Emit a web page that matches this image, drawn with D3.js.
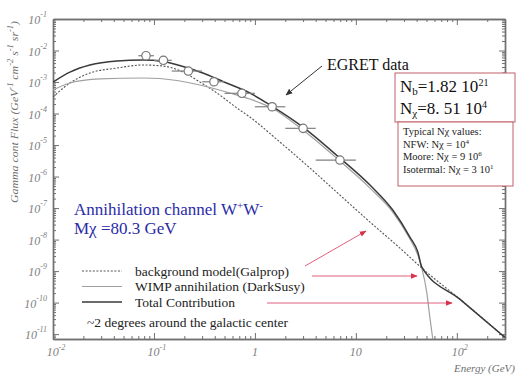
<!DOCTYPE html>
<html><head><meta charset="utf-8">
<script src="https://cdn.jsdelivr.net/npm/d3@7"></script>
<style>body{margin:0;background:#fff}svg{display:block}</style>
</head><body><svg id="c" width="518" height="378"></svg>
<script>
// ---- data ----
const egretE      = [0.0834, 0.124, 0.219, 0.393, 0.743, 1.48, 3.0, 6.95];
const egretFlux   = [6.84e-3, 4.89e-3, 2.23e-3, 1.02e-3, 4.38e-4, 1.64e-4, 3.39e-5, 3.34e-6];
const egretBinLo  = [0.07, 0.1, 0.15, 0.3, 0.5, 1, 2, 4];
const egretBinHi  = [0.1, 0.15, 0.3, 0.5, 1, 2, 4, 10];

const totalE    = [0.01, 0.0147, 0.0232, 0.043, 0.0778, 0.123, 0.194, 0.305, 0.482, 0.891, 1.47, 2.99, 6.95, 13.8, 23.2, 34.3, 41.1, 45.0, 107, 298];
const totalFlux = [1.0e-3, 2.07e-3, 3.47e-3, 4.64e-3, 4.99e-3, 4.48e-3, 3.11e-3, 1.93e-3, 1.04e-3, 4.48e-4, 1.73e-4, 3.73e-5, 3.86e-6, 5.37e-7, 8.65e-8, 1.20e-8, 4.01e-9, 1.34e-9, 1.29e-10, 8.0e-12];

const wimpE    = [0.01, 0.0147, 0.0292, 0.0778, 0.169, 0.285, 0.565, 0.891, 1.47, 2.99, 6.95, 13.8, 23.2, 34.3, 41.1, 45.0, 50.5, 54.0, 57.8];
const wimpFlux = [5.57e-4, 9.3e-4, 1.25e-3, 1.34e-3, 1.12e-3, 8.03e-4, 4.48e-4, 2.88e-4, 1.50e-4, 2.99e-5, 3.10e-6, 4.31e-7, 7.47e-8, 1.04e-8, 3.22e-9, 1.25e-9, 2.0e-10, 3.47e-11, 7.0e-12];

const bkgE    = [0.01, 0.0147, 0.0232, 0.043, 0.0778, 0.123, 0.194, 0.285, 0.421, 0.663, 0.891, 1.77, 3.51, 6.95, 13.8, 27.3, 45.0, 107, 298];
const bkgFlux = [3.34e-4, 9.3e-4, 1.93e-3, 2.78e-3, 3.47e-3, 3.22e-3, 2.07e-3, 1.0e-3, 4.48e-4, 1.50e-4, 7.74e-5, 1.24e-5, 1.86e-6, 2.59e-7, 3.60e-8, 5.37e-9, 1.25e-9, 1.29e-10, 8.0e-12];

const xTickValues = [0.01, 0.1, 1, 10, 100];
const xTickLabels = ["10^-2", "10^-1", "1", "10", "10^2"];
const yTickValues = [1e-1, 1e-2, 1e-3, 1e-4, 1e-5, 1e-6, 1e-7, 1e-8, 1e-9, 1e-10, 1e-11];
const yTickLabels = ["10^-1", "10^-2", "10^-3", "10^-4", "10^-5", "10^-6", "10^-7", "10^-8", "10^-9", "10^-10", "10^-11"];

const legendLabels = ["background model(Galprop)", "WIMP annihilation (DarkSusy)", "Total Contribution"];

// ---- layout ----
const svg = d3.select("#c");
const L = 53, R = 505, T = 19, B = 339;
const x = d3.scaleLog().domain([0.01, 300]).range([L, R]);
const y = d3.scaleLog().domain([7e-12, 0.1]).range([B, T]);
const serif = "'Liberation Serif','Times New Roman',serif";
const axisCol = "#707070";

function minors(lo, hi) {
  const out = [];
  for (let e = Math.floor(Math.log10(lo)); e <= Math.ceil(Math.log10(hi)); e++)
    for (let k = 2; k <= 9; k++) { const v = k * Math.pow(10, e); if (v >= lo && v <= hi) out.push(v); }
  return out;
}
const xMin = minors(0.01, 300), yMin = minors(7e-12, 0.1);

function styleAxis(g) {
  g.select(".domain").attr("stroke", axisCol).attr("stroke-width", 1.4);
  g.selectAll(".tick line").attr("stroke", axisCol).attr("stroke-width", 1);
  g.selectAll(".tick text").remove();
}
svg.append("g").attr("transform", `translate(0,${B})`)
  .call(d3.axisBottom(x).tickValues(xTickValues).tickSizeInner(-6).tickSizeOuter(0).tickFormat("")).call(styleAxis);
svg.append("g").attr("transform", `translate(0,${B})`)
  .call(d3.axisBottom(x).tickValues(xMin).tickSizeInner(-3).tickSizeOuter(0).tickFormat("")).call(styleAxis);
svg.append("g").attr("transform", `translate(0,${T})`)
  .call(d3.axisTop(x).tickValues(xTickValues).tickSizeInner(-6).tickSizeOuter(0).tickFormat("")).call(styleAxis);
svg.append("g").attr("transform", `translate(0,${T})`)
  .call(d3.axisTop(x).tickValues(xMin).tickSizeInner(-3).tickSizeOuter(0).tickFormat("")).call(styleAxis);
svg.append("g").attr("transform", `translate(${L},0)`)
  .call(d3.axisLeft(y).tickValues(yTickValues).tickSizeInner(-6).tickSizeOuter(0).tickFormat("")).call(styleAxis);
svg.append("g").attr("transform", `translate(${L},0)`)
  .call(d3.axisLeft(y).tickValues(yMin).tickSizeInner(-3).tickSizeOuter(0).tickFormat("")).call(styleAxis);
svg.append("g").attr("transform", `translate(${R},0)`)
  .call(d3.axisRight(y).tickValues(yTickValues).tickSizeInner(-6).tickSizeOuter(0).tickFormat("")).call(styleAxis);
svg.append("g").attr("transform", `translate(${R},0)`)
  .call(d3.axisRight(y).tickValues(yMin).tickSizeInner(-3).tickSizeOuter(0).tickFormat("")).call(styleAxis);

function powLabel(sel, label, supSize, supDy) {
  const parts = label.split("^");
  sel.append("tspan").text(parts[0]);
  if (parts.length > 1) {
    sel.append("tspan").attr("font-size", supSize).attr("dy", supDy).text(parts[1]);
  }
}
xTickValues.forEach((v, i) => {
  const t = svg.append("text").attr("x", x(v) + (xTickLabels[i].includes("^") ? 3 : 0)).attr("y", 356)
    .attr("text-anchor", "middle").attr("font-family", serif).attr("font-style", "italic")
    .attr("font-size", 12).attr("fill", "#808080");
  powLabel(t, xTickLabels[i], 8, -6);
});
yTickValues.forEach((v, i) => {
  const t = svg.append("text").attr("x", 47).attr("y", y(v) + 5)
    .attr("text-anchor", "end").attr("font-family", serif).attr("font-style", "italic")
    .attr("font-size", 12).attr("fill", "#808080");
  powLabel(t, yTickLabels[i], 8, -7);
});

// axis titles
svg.append("text").attr("x", 515).attr("y", 372).attr("text-anchor", "end")
  .attr("font-family", serif).attr("font-style", "italic").attr("font-size", 11).attr("fill", "#707070")
  .text("Energy (GeV)");
const yt = svg.append("text").attr("transform", "translate(18,112) rotate(-90)").attr("text-anchor", "middle")
  .attr("font-family", serif).attr("font-style", "italic").attr("font-size", 10.5).attr("fill", "#707070")
  .attr("textLength", 182).attr("lengthAdjust", "spacingAndGlyphs");
[["Gamma cont Flux (GeV", "-1"], [" cm", "-2"], [" s", "-1"], [" sr", "-1"], [")", null]].forEach(([a, s], k) => {
  yt.append("tspan").attr("dy", k === 0 ? 0 : 5).text(a);
  if (s) yt.append("tspan").attr("font-size", 7.5).attr("dy", -5).text(s);
});

// ---- curves ----
const line = d3.line().x(d => x(d[0])).y(d => y(d[1])).curve(d3.curveMonotoneX);
svg.append("clipPath").attr("id", "pc").append("rect").attr("x", L).attr("y", T).attr("width", R - L).attr("height", B - T);
const plot = svg.append("g").attr("clip-path", "url(#pc)");
plot.append("path").datum(d3.zip(bkgE, bkgFlux)).attr("d", line)
  .attr("fill", "none").attr("stroke", "#555").attr("stroke-width", 1.1).attr("stroke-dasharray", "2,1.6");
plot.append("path").datum(d3.zip(wimpE, wimpFlux)).attr("d", line)
  .attr("fill", "none").attr("stroke", "#a0a0a0").attr("stroke-width", 1.2);
plot.append("path").datum(d3.zip(totalE, totalFlux)).attr("d", line)
  .attr("fill", "none").attr("stroke", "#3a3a3a").attr("stroke-width", 1.5);

// EGRET points
const pts = d3.range(egretE.length);
svg.selectAll(".eb").data(pts).join("line")
  .attr("x1", i => x(egretBinLo[i])).attr("x2", i => x(egretBinHi[i]))
  .attr("y1", i => y(egretFlux[i])).attr("y2", i => y(egretFlux[i]))
  .attr("stroke", "#808080").attr("stroke-width", 1.2);
svg.selectAll(".pt").data(pts).join("circle")
  .attr("cx", i => x(egretE[i])).attr("cy", i => y(egretFlux[i])).attr("r", 4.2)
  .attr("fill", "#fff").attr("stroke", "#777").attr("stroke-width", 1.2);

// ---- annotations ----
const defs = svg.append("defs");
function marker(id, col) {
  defs.append("marker").attr("id", id).attr("viewBox", "0 0 10 10").attr("refX", 9).attr("refY", 5)
    .attr("markerWidth", 7).attr("markerHeight", 7).attr("orient", "auto")
    .append("path").attr("d", "M0,1 L10,5 L0,9 Z").attr("fill", col);
}
marker("ak", "#333"); marker("ar", "#d8334a");

svg.append("text").attr("x", 327).attr("y", 70).attr("font-family", serif).attr("font-size", 16).attr("fill", "#111").text("EGRET data");
svg.append("line").attr("x1", 322).attr("y1", 66).attr("x2", 286).attr("y2", 95)
  .attr("stroke", "#333").attr("stroke-width", 1).attr("marker-end", "url(#ak)");

const redArrows = [[305, 266, 366, 231], [312, 276, 417, 276], [267, 303, 452, 303]];
redArrows.forEach(a => svg.append("line").attr("x1", a[0]).attr("y1", a[1]).attr("x2", a[2]).attr("y2", a[3])
  .attr("stroke", "#e0607a").attr("stroke-width", 1).attr("marker-end", "url(#ar)"));

svg.append("rect").attr("x", 395).attr("y", 73).attr("width", 120).attr("height", 49)
  .attr("fill", "#fff").attr("stroke", "#c0606a").attr("stroke-width", 1);
svg.append("rect").attr("x", 398).attr("y", 122).attr("width", 115).attr("height", 64)
  .attr("fill", "#fff").attr("stroke", "#c0606a").attr("stroke-width", 1);

const nb = svg.append("text").attr("x", 400).attr("y", 92).attr("font-family", serif).attr("font-size", 17).attr("fill", "#111");
nb.append("tspan").text("N");
nb.append("tspan").attr("font-size", 11).attr("dy", 3).text("b");
nb.append("tspan").attr("dy", -3).text("=1.82 10");
nb.append("tspan").attr("font-size", 10).attr("dy", -6).text("21");
const nx = svg.append("text").attr("x", 400).attr("y", 114).attr("font-family", serif).attr("font-size", 17).attr("fill", "#111");
nx.append("tspan").text("N");
nx.append("tspan").attr("font-size", 11).attr("dy", 3).text("χ");
nx.append("tspan").attr("dy", -3).text("=8. 51 10");
nx.append("tspan").attr("font-size", 10).attr("dy", -6).text("4");

const small = [["Typical Nχ  values:", null], ["NFW: Nχ =  10", "4"], ["Moore:  Nχ = 9 10", "6"], ["Isotermal:  Nχ = 3 10", "1"]];
small.forEach((s, i) => {
  const t = svg.append("text").attr("x", 403).attr("y", 135 + i * 12.5).attr("font-family", serif)
    .attr("font-size", 10.5).attr("fill", "#222");
  t.append("tspan").text(s[0]);
  if (s[1]) t.append("tspan").attr("font-size", 7).attr("dy", -4).text(s[1]);
});

const b1 = svg.append("text").attr("x", 74).attr("y", 215).attr("font-family", serif).attr("font-size", 17).attr("fill", "#2b2ba8");
b1.append("tspan").text("Annihilation channel W");
b1.append("tspan").attr("font-size", 11).attr("dy", -6).text("+");
b1.append("tspan").attr("dy", 6).text("W");
b1.append("tspan").attr("font-size", 11).attr("dy", -6).text("-");
svg.append("text").attr("x", 74).attr("y", 234).attr("font-family", serif).attr("font-size", 17).attr("fill", "#2b2ba8")
  .text("Mχ =80.3 GeV");

const legStyles = [{c: "#555", w: 1.1, d: "2,1.6"}, {c: "#a0a0a0", w: 1.2, d: null}, {c: "#3a3a3a", w: 1.3, d: null}];
legendLabels.forEach((lab, i) => {
  const yy = 271 + i * 15.5;
  const ln = svg.append("line").attr("x1", 82).attr("x2", 122).attr("y1", yy).attr("y2", yy)
    .attr("stroke", legStyles[i].c).attr("stroke-width", legStyles[i].w);
  if (legStyles[i].d) ln.attr("stroke-dasharray", legStyles[i].d);
  svg.append("text").attr("x", 135).attr("y", yy + 4.5).attr("font-family", serif).attr("font-size", 13.5)
    .attr("fill", "#222").text(lab);
});
svg.append("text").attr("x", 87).attr("y", 326.5).attr("font-family", serif).attr("font-size", 13.5)
  .attr("fill", "#222").text("~2 degrees around the galactic center");
</script></body></html>
